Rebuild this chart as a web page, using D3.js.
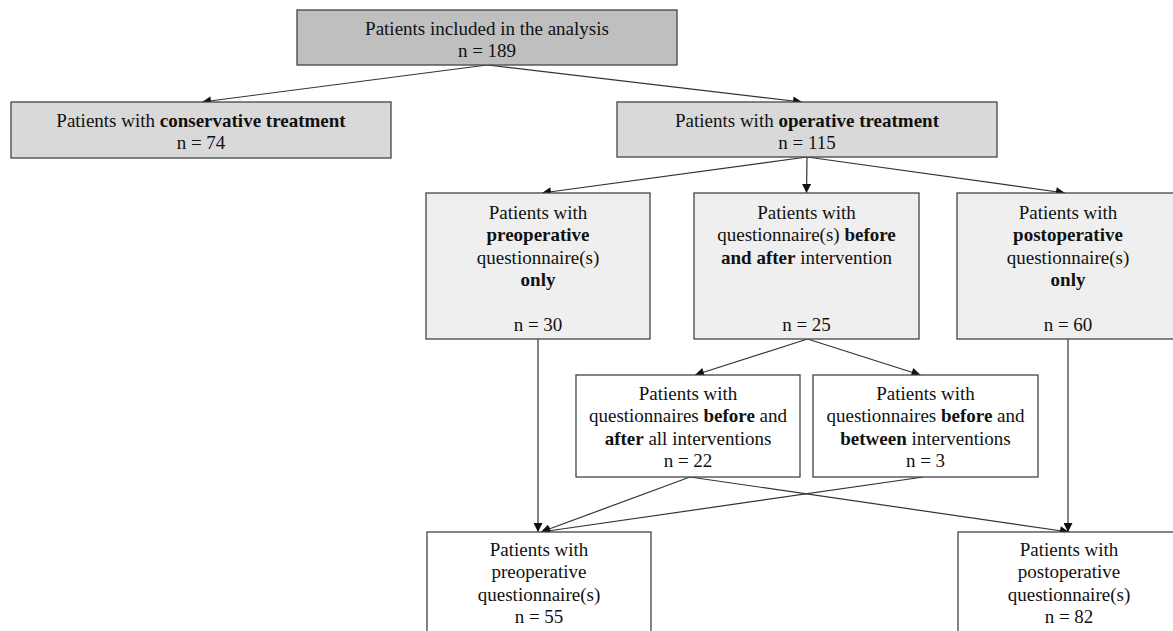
<!DOCTYPE html>
<html>
<head>
<meta charset="utf-8">
<script src="https://cdn.jsdelivr.net/npm/d3@7"></script>
<style>
  html, body { margin: 0; padding: 0; background: #fff; overflow: hidden; }
  text { font-family: "Liberation Serif", "Times New Roman", serif; font-size: 19px; fill: #111; }
</style>
</head>
<body>
<div id="chart"></div>
<script>
// flow nodes: id, text lines (**bold**), count
var nodeIds = ["all", "cons", "oper", "preOnly", "both", "postOnly", "allInt", "betw", "preQ", "postQ"];
var nodeLines = [
  ["Patients included in the analysis"],
  ["Patients with **conservative treatment**"],
  ["Patients with **operative treatment**"],
  ["Patients with", "**preoperative**", "questionnaire(s)", "**only**", ""],
  ["Patients with", "questionnaire(s) **before**", "**and after** intervention", "", ""],
  ["Patients with", "**postoperative**", "questionnaire(s)", "**only**", ""],
  ["Patients with", "questionnaires **before** and", "**after** all interventions"],
  ["Patients with", "questionnaires **before** and", "**between** interventions"],
  ["Patients with", "preoperative", "questionnaire(s)"],
  ["Patients with", "postoperative", "questionnaire(s)"]
];
var nodeCounts = [189, 74, 115, 30, 25, 60, 22, 3, 55, 82];

// edges between nodes
var linkSources = ["all", "all", "oper", "oper", "oper", "both", "both", "preOnly", "postOnly", "allInt", "allInt", "betw"];
var linkTargets = ["cons", "oper", "preOnly", "both", "postOnly", "allInt", "betw", "preQ", "postQ", "preQ", "postQ", "preQ"];

// layout (pixels)
var layout = {
  all:      { x: 297, y: 10,  w: 380, h: 55,  fill: "#bfbfbf", top: 18 },
  cons:     { x: 11,  y: 102, w: 380, h: 56,  fill: "#d9d9d9", top: 18 },
  oper:     { x: 617, y: 102, w: 380, h: 55,  fill: "#d9d9d9", top: 18 },
  preOnly:  { x: 426, y: 193, w: 224, h: 146, fill: "#efefef", top: 19 },
  both:     { x: 694, y: 193, w: 225, h: 146, fill: "#efefef", top: 19 },
  postOnly: { x: 957, y: 193, w: 222, h: 146, fill: "#efefef", top: 19 },
  allInt:   { x: 576, y: 375, w: 224, h: 102, fill: "#ffffff", top: 18 },
  betw:     { x: 813, y: 375, w: 225, h: 102, fill: "#ffffff", top: 18 },
  preQ:     { x: 427, y: 532, w: 224, h: 120, fill: "#ffffff", top: 17 },
  postQ:    { x: 958, y: 532, w: 222, h: 120, fill: "#ffffff", top: 17 }
};
// small horizontal nudges of the link end points
var srcDx = [0, 0, 0, 0, 0, 1, 1, 0, 0, 2, 2, -2];
var tgtDx = [1, -5, 4, 0, -3, 7, -5, -1, -1, 2, 0, 2];

var W = 1173, H = 631, lineH = 22.5;

var svg = d3.select("#chart").append("svg")
  .attr("width", W).attr("height", H);

svg.append("defs").append("marker")
  .attr("id", "arrow")
  .attr("viewBox", "0 0 10 10")
  .attr("refX", 10).attr("refY", 5)
  .attr("markerWidth", 10).attr("markerHeight", 9)
  .attr("markerUnits", "userSpaceOnUse")
  .attr("orient", "auto")
  .append("path")
  .attr("d", "M0,0 L10,5 L0,10 z")
  .attr("fill", "#111");

var nodes = nodeIds.map(function (id, i) {
  var l = layout[id];
  return { id: id, lines: nodeLines[i].concat(["n = " + nodeCounts[i]]), x: l.x, y: l.y, w: l.w, h: l.h, fill: l.fill, top: l.top };
});
var byId = {};
nodes.forEach(function (n) { byId[n.id] = n; });

var links = linkSources.map(function (s, i) {
  var a = byId[s], b = byId[linkTargets[i]];
  return {
    x1: a.x + a.w / 2 + srcDx[i], y1: a.y + a.h,
    x2: b.x + b.w / 2 + tgtDx[i], y2: b.y
  };
});

svg.append("g").selectAll("line")
  .data(links)
  .enter().append("line")
  .attr("x1", function (d) { return d.x1; })
  .attr("y1", function (d) { return d.y1; })
  .attr("x2", function (d) { return d.x2; })
  .attr("y2", function (d) { return d.y2; })
  .attr("stroke", "#333")
  .attr("stroke-width", 1.2)
  .attr("marker-end", "url(#arrow)");

var boxes = svg.append("g").selectAll("g.box")
  .data(nodes)
  .enter().append("g")
  .attr("class", "box");

boxes.append("rect")
  .attr("x", function (d) { return d.x; })
  .attr("y", function (d) { return d.y; })
  .attr("width", function (d) { return d.w; })
  .attr("height", function (d) { return d.h; })
  .attr("fill", function (d) { return d.fill; })
  .attr("stroke", "#444")
  .attr("stroke-width", 1.3);

boxes.each(function (d) {
  var g = d3.select(this);
  d.lines.forEach(function (line, k) {
    if (line === "") return;
    var t = g.append("text")
      .attr("x", d.x + d.w / 2)
      .attr("y", d.y + d.top + k * lineH)
      .attr("dy", "0.35em")
      .attr("text-anchor", "middle");
    // split on ** to alternate normal / bold
    line.split("**").forEach(function (part, j) {
      if (part === "") return;
      t.append("tspan")
        .attr("font-weight", j % 2 === 1 ? "bold" : "normal")
        .text(part);
    });
  });
});
</script>
</body>
</html>
